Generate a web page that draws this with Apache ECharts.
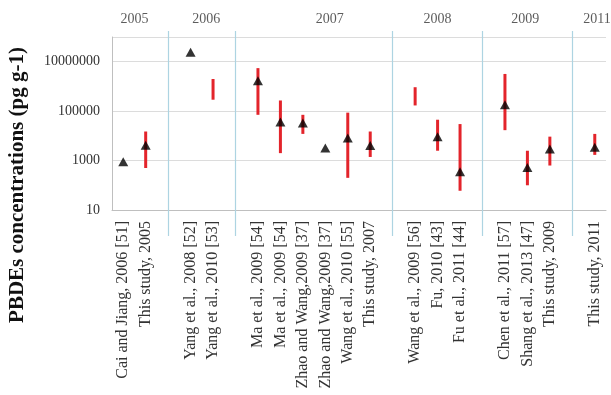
<!DOCTYPE html>
<html>
<head>
<meta charset="utf-8">
<script src="https://cdn.jsdelivr.net/npm/echarts@6/dist/echarts.min.js"></script>
<style>
  html, body { margin: 0; padding: 0; background: #fff; }
  #chart { width: 611px; height: 395px; }
</style>
</head>
<body>
<div id="chart"></div>
<script>
// Study labels along the x axis; '' marks a spacer slot between year groups
const studies = [
  'Cai and Jiang, 2006 [51]', 'This study, 2005', '',
  'Yang et al., 2008 [52]', 'Yang et al., 2010 [53]', '',
  'Ma et al., 2009 [54]', 'Ma et al., 2009 [54]', 'Zhao and Wang,2009 [37]',
  'Zhao and Wang,2009 [37]', 'Wang et al., 2010 [55]', 'This study, 2007', '',
  'Wang et al., 2009 [56]', 'Fu, 2010 [43]', 'Fu et al., 2011 [44]', '',
  'Chen et al., 2011 [57]', 'Shang et al., 2013 [47]', 'This study, 2009', '',
  'This study, 2011'
];

// Reported mean / central concentrations (pg g-1)
const meanValues = [
  900, 4200, null,
  24000000, null, null,
  1700000, 36000, 33000, 3200, 8100, 4100, null,
  null, 9300, 355, null,
  180000, 520, 2950, null,
  3500
];

// Reported ranges (pg g-1)
const rangeLow = [
  null, 500, null,
  null, 290000, null,
  71000, 2000, 12000, null, 200, 1400, null,
  170000, 2500, 60, null,
  17000, 100, 630, null,
  1700
];
const rangeHigh = [
  null, 15000, null,
  null, 2000000, null,
  5500000, 270000, 71000, null, 87000, 15000, null,
  930000, 45000, 30000, null,
  3200000, 2500, 9300, null,
  12000
];

// Sampling-year groups: label with first and last study index
const yearLabels = ['2005', '2006', '2007', '2008', '2009', '2011'];
const yearFirst = [0, 3, 6, 13, 17, 21];
const yearLast  = [1, 4, 11, 15, 19, 21];

// Y ticks
const yTickValues = [10, 1000, 100000, 10000000];

const serif = '"Liberation Serif", "Times New Roman", serif';
const n = studies.length;

// Range bars as [index, low, high]
const rangeData = [];
for (let i = 0; i < n; i++) {
  if (rangeLow[i] != null && rangeHigh[i] != null) rangeData.push([i, rangeLow[i], rangeHigh[i]]);
}
const meanData = [];
for (let i = 0; i < n; i++) {
  if (meanValues[i] != null) meanData.push([i, meanValues[i]]);
}

// Divider lines sit in the spacer slots
const dividers = [];
studies.forEach((s, i) => { if (s === '') dividers.push({ xAxis: i + 0.5 }); });

// Year headings centred over their group (small nudges for long groups)
const yearNudge = [0, 0.2, 0.7, 0, -0.1, 0.1];
const yearData = yearLabels.map((y, k) => ({
  value: [(yearFirst[k] + yearLast[k] + 1) / 2 + yearNudge[k], 1],
  name: y
}));

const chart = echarts.init(document.getElementById('chart'), null, { renderer: 'canvas' });

chart.setOption({
  animation: false,
  backgroundColor: '#ffffff',
  grid: [
    { left: 112, right: 5, top: 37, bottom: 185 },
    { left: 112, right: 5, top: 31, bottom: 159 }
  ],
  xAxis: [
    {
      type: 'category',
      gridIndex: 0,
      data: studies,
      boundaryGap: true,
      axisLine: { show: true, lineStyle: { color: '#bfbfbf', width: 1 } },
      axisTick: { show: false },
      splitLine: { show: false },
      axisLabel: {
        interval: 0,
        rotate: 90,
        margin: 11,
        fontFamily: serif,
        fontSize: 16,
        color: '#333'
      }
    },
    {
      type: 'value',
      gridIndex: 1,
      min: 0,
      max: n,
      show: false
    }
  ],
  yAxis: [
    {
      type: 'log',
      gridIndex: 0,
      logBase: 10,
      min: 10,
      max: 100000000,
      interval: 2,
      axisLine: { show: true, lineStyle: { color: '#bfbfbf', width: 1 } },
      axisTick: { show: false },
      splitLine: { show: true, lineStyle: { color: '#dcdcdc', width: 1 } },
      axisLabel: {
        margin: 12,
        fontFamily: serif,
        fontSize: 14,
        color: '#333',
        formatter: v => (yTickValues.indexOf(Math.round(v)) >= 0 ? String(Math.round(v)) : '')
      }
    },
    {
      type: 'value',
      gridIndex: 1,
      min: 0,
      max: 1,
      show: false
    }
  ],
  graphic: [
    {
      type: 'text',
      x: 18,
      y: 185,
      rotation: Math.PI / 2,
      style: {
        text: 'PBDEs concentrations (pg g-1)',
        font: 'bold 21px ' + serif,
        fill: '#111',
        textAlign: 'center',
        textVerticalAlign: 'middle'
      }
    }
  ],
  series: [
    {
      name: 'dividers',
      type: 'line',
      xAxisIndex: 1,
      yAxisIndex: 1,
      data: [],
      silent: true,
      markLine: {
        silent: true,
        symbol: 'none',
        label: { show: false },
        lineStyle: { color: '#add4e2', width: 1.2, type: 'solid' },
        data: dividers
      }
    },
    {
      name: 'years',
      type: 'scatter',
      xAxisIndex: 1,
      yAxisIndex: 1,
      symbolSize: 0,
      silent: true,
      data: yearData,
      label: {
        show: true,
        position: 'top',
        distance: 5,
        formatter: p => p.name,
        fontFamily: serif,
        fontSize: 14,
        color: '#333'
      }
    },
    {
      name: 'range',
      type: 'custom',
      xAxisIndex: 0,
      yAxisIndex: 0,
      data: rangeData,
      z: 3,
      renderItem: (params, api) => {
        const lo = api.coord([api.value(0), api.value(1)]);
        const hi = api.coord([api.value(0), api.value(2)]);
        return {
          type: 'line',
          shape: { x1: lo[0], y1: lo[1], x2: hi[0], y2: hi[1] },
          style: { stroke: '#e3242b', lineWidth: 3 }
        };
      }
    },
    {
      name: 'mean',
      type: 'scatter',
      xAxisIndex: 0,
      yAxisIndex: 0,
      symbol: 'triangle',
      symbolSize: [10, 9],
      itemStyle: { color: '#000' },
      z: 4,
      data: meanData
    }
  ]
});
</script>
</body>
</html>
